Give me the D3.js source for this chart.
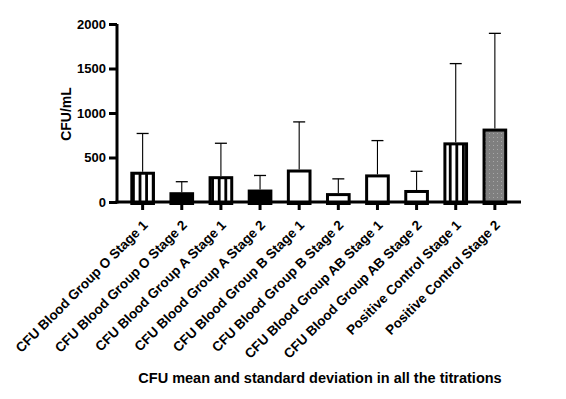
<!DOCTYPE html>
<html><head><meta charset="utf-8">
<script src="https://cdn.jsdelivr.net/npm/d3@7"></script>
<style>body{margin:0;background:#fff}svg{display:block}text{font-family:"Liberation Sans",Arial,sans-serif;font-weight:bold}</style>
</head><body>
<svg id="c" width="566" height="399"></svg>
<script>
const categories = ["CFU Blood Group O Stage 1","CFU Blood Group O Stage 2","CFU Blood Group A Stage 1","CFU Blood Group A Stage 2","CFU Blood Group B Stage 1","CFU Blood Group B Stage 2","CFU Blood Group AB Stage 1","CFU Blood Group AB Stage 2","Positive Control Stage 1","Positive Control Stage 2"];
const means = [340, 110, 290, 140, 365, 100, 310, 135, 670, 825];
const upperSD = [770, 228, 660, 298, 900, 260, 690, 345, 1555, 1895];
const fills = ["stripe","black","stripe","black","white","white","white","white","stripe","gray"];
const yTicks = [0, 500, 1000, 1500, 2000];
const yTitle = "CFU/mL";
const xTitle = "CFU mean and standard deviation in all the titrations";

const svg = d3.select("#c");
const defs = svg.append("defs");
const sp = defs.append("pattern").attr("id","stripe").attr("patternUnits","userSpaceOnUse").attr("width",6.6).attr("height",10);
sp.append("rect").attr("width",6.6).attr("height",10).attr("fill","#fff");
sp.append("rect").attr("x",0).attr("width",2.8).attr("height",10).attr("fill","#000");
const gp = defs.append("pattern").attr("id","gray").attr("patternUnits","userSpaceOnUse").attr("width",4).attr("height",4);
gp.append("rect").attr("width",4).attr("height",4).attr("fill","#7f7f7f");
gp.append("rect").attr("x",1).attr("y",1).attr("width",1).attr("height",1).attr("fill","#a8a8a8");

const x = d3.scaleBand().domain(categories).range([117, 520.5]).paddingInner(0.37).paddingOuter(0.34);
const y = d3.scaleLinear().domain([0, 2000]).range([202, 24]);

const fillOf = f => f==="stripe" ? "url(#stripe)" : f==="gray" ? "url(#gray)" : f==="black" ? "#000" : "#fff";

// error bars
const eb = svg.append("g");
categories.forEach((c,i)=>{
  const cx = x(c) + x.bandwidth()/2;
  eb.append("line").attr("x1",cx).attr("x2",cx).attr("y1",y(means[i])).attr("y2",y(upperSD[i])).attr("stroke","#000").attr("stroke-width",1.1);
  eb.append("line").attr("x1",cx-6).attr("x2",cx+6).attr("y1",y(upperSD[i])).attr("y2",y(upperSD[i])).attr("stroke","#000").attr("stroke-width",1.3);
});

svg.append("g").selectAll("rect").data(categories).join("rect")
  .attr("x", d => x(d)+1.5)
  .attr("width", x.bandwidth()-3)
  .attr("y", (d,i) => y(means[i])+1.5)
  .attr("height", (d,i) => y(0)-y(means[i]))
  .attr("fill", (d,i) => fillOf(fills[i]))
  .attr("stroke","#000").attr("stroke-width",3);

// y axis
const ya = svg.append("g").attr("transform","translate(117,0)")
  .call(d3.axisLeft(y).tickValues(yTicks).tickSize(8).tickPadding(3).tickFormat(d3.format("d")));
ya.select(".domain").attr("stroke-width",3).attr("d","M0,24V203.5");
ya.selectAll(".tick line").attr("stroke-width",3);
ya.selectAll("text").attr("font-size",13).attr("fill","#000").style("font-family","'Liberation Sans',Arial,sans-serif").style("font-weight","bold");

// x axis
const xa = svg.append("g").attr("transform","translate(0,202)")
  .call(d3.axisBottom(x).tickSize(8).tickSizeOuter(0).tickPadding(4));
xa.select(".domain").attr("stroke-width",3).attr("d","M115.5,0H521");
xa.selectAll(".tick line").attr("stroke-width",3);
xa.selectAll("text").attr("font-size",13.5).attr("fill","#000")
  .style("font-family","'Liberation Sans',Arial,sans-serif").style("font-weight","bold")
  .attr("text-anchor","end").attr("x",0).attr("y",0).attr("dy",0)
  .attr("transform","translate(6,24) rotate(-45)");

svg.append("text").attr("transform","translate(71,114) rotate(-90)").attr("text-anchor","middle")
  .attr("font-size",14).text(yTitle);
svg.append("text").attr("x",320).attr("y",383).attr("text-anchor","middle").attr("font-size",14.5).text(xTitle);
</script>
</body></html>
